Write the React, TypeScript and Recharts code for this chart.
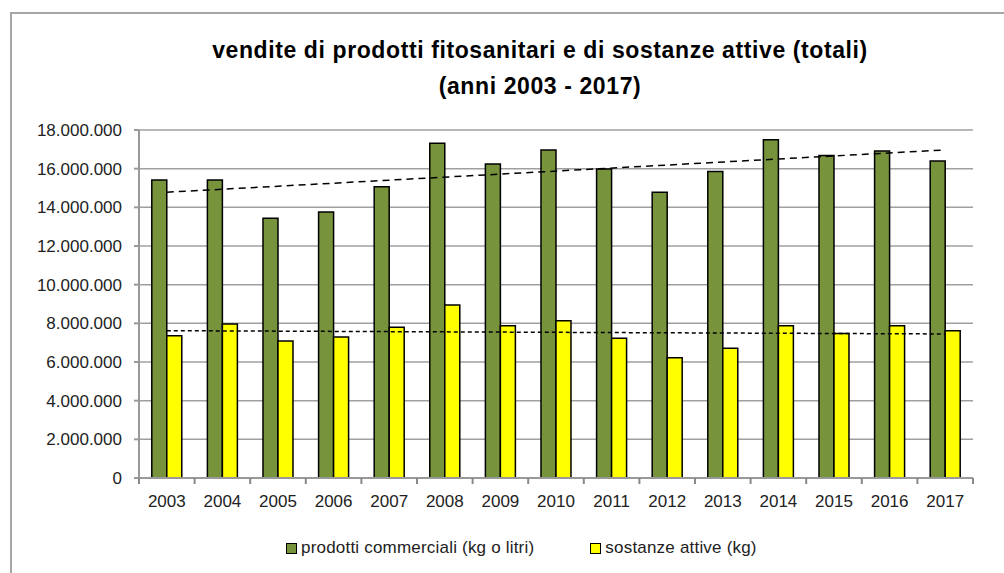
import React from 'react';
import { ComposedChart, Bar, Line, XAxis, YAxis, CartesianGrid } from 'recharts';

const years = ['2003', '2004', '2005', '2006', '2007', '2008', '2009', '2010', '2011', '2012', '2013', '2014', '2015', '2016', '2017'];
const commerciali = [15410000, 15410000, 13430000, 13760000, 15070000, 17310000, 16240000, 16970000, 15980000, 14780000, 15850000, 17490000, 16680000, 16920000, 16400000];
const attive = [7360000, 7970000, 7090000, 7290000, 7800000, 8950000, 7880000, 8140000, 7230000, 6220000, 6710000, 7880000, 7480000, 7880000, 7620000];
// linear trend lines, only the end points
const trendCommerciali = [14780000, null, null, null, null, null, null, null, null, null, null, null, null, null, 16970000];
const trendAttive = [7620000, null, null, null, null, null, null, null, null, null, null, null, null, null, 7450000];
const yTicks = [0, 2000000, 4000000, 6000000, 8000000, 10000000, 12000000, 14000000, 16000000, 18000000];

const data = years.map((y, i) => ({
  year: y,
  commerciali: commerciali[i],
  attive: attive[i],
  trendC: trendCommerciali[i],
  trendA: trendAttive[i],
}));

const GREEN = '#77933C';
const YELLOW = '#FFFF00';
const FONT = "'Liberation Sans', Arial, sans-serif";

const fmt = (v: number) => String(v).replace(/\B(?=(\d{3})+(?!\d))/g, '.');

const CHART_W = 1004;
const CHART_H = 573;
const PLOT_LEFT = 139;
const PLOT_RIGHT = 973;
const band = (PLOT_RIGHT - PLOT_LEFT) / years.length;

function XTick(props: any) {
  const { x, y, payload, index } = props;
  return (
    <g>
      <line x1={x + band / 2} x2={x + band / 2} y1={y - 8} y2={y - 2} stroke="#888" strokeWidth={2} />
      {index === 0 && <line x1={x - band / 2} x2={x - band / 2} y1={y - 8} y2={y - 2} stroke="#888" strokeWidth={2} />}
      <text x={x} y={y + 9} textAnchor="middle" dominantBaseline="hanging" fontSize={17} fill="#222" fontFamily={FONT}>
        {payload.value}
      </text>
    </g>
  );
}

export default function App() {
  return (
    <div style={{ position: 'fixed', left: 0, top: 0, width: CHART_W, height: CHART_H, overflow: 'hidden', background: '#fff' }}>
      <div style={{ position: 'absolute', left: 10, top: 12, width: 1100, height: 700, border: '2px solid #a6a6a6' }} />
      <div style={{ position: 'absolute', left: 0, width: 1080, top: 32, textAlign: 'center', fontFamily: FONT, fontWeight: 'bold', fontSize: 23, letterSpacing: 0.6, lineHeight: '36px', color: '#000' }}>
        vendite di prodotti fitosanitari e di sostanze attive (totali)
        <br />
        (anni 2003 - 2017)
      </div>
      <div style={{ position: 'absolute', left: 0, top: 0 }}>
        <ComposedChart
          width={CHART_W}
          height={CHART_H}
          data={data}
          margin={{ top: 130, right: CHART_W - PLOT_RIGHT, left: 0, bottom: 0 }}
          barGap={0}
          barCategoryGap="23%"
        >
          <CartesianGrid vertical={false} stroke="#a0a0a0" strokeWidth={1.5} />
          <XAxis
            dataKey="year"
            height={95}
            tickLine={false}
            axisLine={{ stroke: '#999', strokeWidth: 2 }}
            tick={<XTick />}
            interval={0}
          />
          <YAxis
            width={PLOT_LEFT}
            domain={[0, 18000000]}
            ticks={yTicks}
            tickFormatter={fmt}
            tickSize={5}
            tickMargin={12}
            tickLine={{ stroke: '#999', strokeWidth: 2 }}
            axisLine={{ stroke: '#999', strokeWidth: 2 }}
            tick={{ fontSize: 17, fill: '#222', fontFamily: FONT }}
            interval={0}
          />
          <Bar dataKey="commerciali" fill={GREEN} stroke="#000" strokeWidth={1.5} isAnimationActive={false} />
          <Bar dataKey="attive" fill={YELLOW} stroke="#000" strokeWidth={1.5} isAnimationActive={false} />
          <Line dataKey="trendC" type="linear" connectNulls dot={false} stroke="#000" strokeWidth={1.5} strokeDasharray="7 5" legendType="none" isAnimationActive={false} />
          <Line dataKey="trendA" type="linear" connectNulls dot={false} stroke="#000" strokeWidth={1.5} strokeDasharray="4 3" legendType="none" isAnimationActive={false} />
        </ComposedChart>
      </div>
      <div style={{ position: 'absolute', top: 538, left: 286, display: 'flex', alignItems: 'center', fontFamily: FONT, fontSize: 17, letterSpacing: 0.2, color: '#222' }}>
        <span style={{ width: 9, height: 9, background: GREEN, border: '1.5px solid #000', marginRight: 4 }} />
        <span>prodotti commerciali (kg o litri)</span>
        <span style={{ width: 9, height: 9, background: YELLOW, border: '1.5px solid #000', marginLeft: 56, marginRight: 4 }} />
        <span>sostanze attive (kg)</span>
      </div>
    </div>
  );
}
